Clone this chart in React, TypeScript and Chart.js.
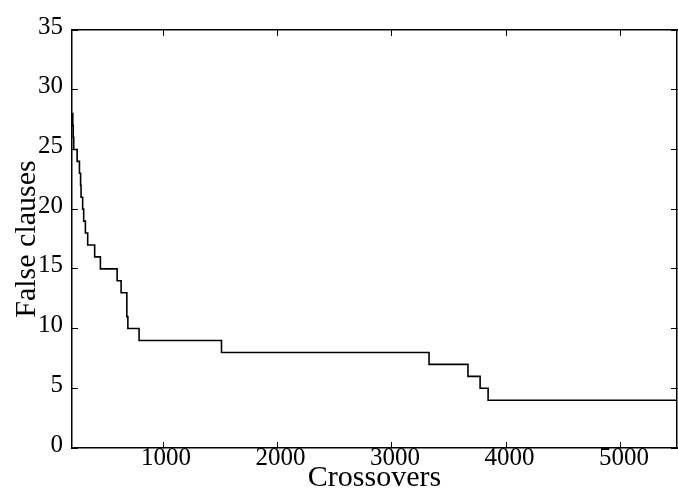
import React, { useEffect, useRef } from "react";
import { Chart, registerables } from "chart.js";

Chart.register(...registerables);

const crossovers = [205, 212, 216, 220, 250, 270, 280, 284, 298, 307, 322, 342, 403, 453, 599, 634, 684, 693, 791, 1511, 3324, 3664, 3770, 3840, 5490];
const falseClauses = [28, 27, 26, 25, 24, 23, 22, 21, 20, 19, 18, 17, 16, 15, 14, 13, 11, 10, 9, 8, 7, 6, 5, 4, 4];

const xTicks = [1000, 2000, 3000, 4000, 5000];
const yTicks = [0, 5, 10, 15, 20, 25, 30, 35];
const xMin = 205;
const xMax = 5490;
const yMin = 0;
const yMax = 35;
const xTitle = "Crossovers";
const yTitle = "False clauses";

const FONT = "'Liberation Serif', 'DejaVu Serif', serif";

export default function App() {
  const ref = useRef<HTMLCanvasElement | null>(null);

  useEffect(() => {
    if (!ref.current) return;
    const tickFont = { family: FONT, size: 25 };
    const titleFont = { family: FONT, size: 30, lineHeight: 1 };
    const setX = (s: any) => { s.ticks = xTicks.map((v) => ({ value: v })); };
    const setY = (s: any) => { s.ticks = yTicks.map((v) => ({ value: v })); };
    const fmt = (v: any) => String(v);
    const chart = new Chart(ref.current, {
      type: "line",
      data: {
        datasets: [
          {
            data: crossovers.map((x, i) => ({ x, y: falseClauses[i] })),
            borderColor: "#000",
            borderWidth: 1.6,
            pointRadius: 0,
            stepped: "before",
            fill: false,
          },
        ],
      },
      options: {
        animation: false,
        responsive: false,
        plugins: { legend: { display: false }, tooltip: { enabled: false } },
        layout: { padding: { top: 22, right: 1, left: 0, bottom: 0 } },
        scales: {
          x: {
            type: "linear",
            position: "bottom",
            min: xMin,
            max: xMax,
            afterBuildTicks: setX,
            afterFit: (s: any) => { s.height = 43; },
            ticks: { font: tickFont, color: "#000", padding: 1, maxRotation: 0, labelOffset: 3, callback: fmt },
            grid: { drawOnChartArea: false, tickLength: -6, color: "#000", tickWidth: 1 },
            border: { color: "#000", width: 1.5 },
            title: { display: true, text: xTitle, font: titleFont, color: "#000", padding: { top: 0, bottom: -2 } },
          },
          x2: {
            type: "linear",
            position: "top",
            min: xMin,
            max: xMax,
            afterBuildTicks: setX,
            afterFit: (s: any) => { s.height = 0; },
            ticks: { display: false },
            grid: { drawOnChartArea: false, tickLength: -6, color: "#000", tickWidth: 1 },
            border: { color: "#000", width: 1.5 },
          },
          y: {
            type: "linear",
            position: "left",
            min: yMin,
            max: yMax,
            afterBuildTicks: setY,
            afterFit: (s: any) => { s.width = 72; },
            ticks: { font: tickFont, color: "#000", padding: 15, labelOffset: -3, callback: fmt },
            grid: { drawOnChartArea: false, tickLength: -6, color: "#000", tickWidth: 1 },
            border: { color: "#000", width: 1.5 },
            title: { display: true, text: yTitle, font: titleFont, color: "#000", padding: { top: 12, bottom: 0 } },
          },
          y2: {
            type: "linear",
            position: "right",
            min: yMin,
            max: yMax,
            afterBuildTicks: setY,
            afterFit: (s: any) => { s.width = 0; },
            ticks: { display: false },
            grid: { drawOnChartArea: false, tickLength: -6, color: "#000", tickWidth: 1 },
            border: { color: "#000", width: 1.5 },
          },
        },
      },
    } as any);
    return () => chart.destroy();
  }, []);

  return (
    <div style={{ position: "absolute", left: 0, top: 0, width: 678, height: 491, background: "#fff" }}>
      <canvas ref={ref} width={678} height={491} style={{ display: "block" }} />
    </div>
  );
}
